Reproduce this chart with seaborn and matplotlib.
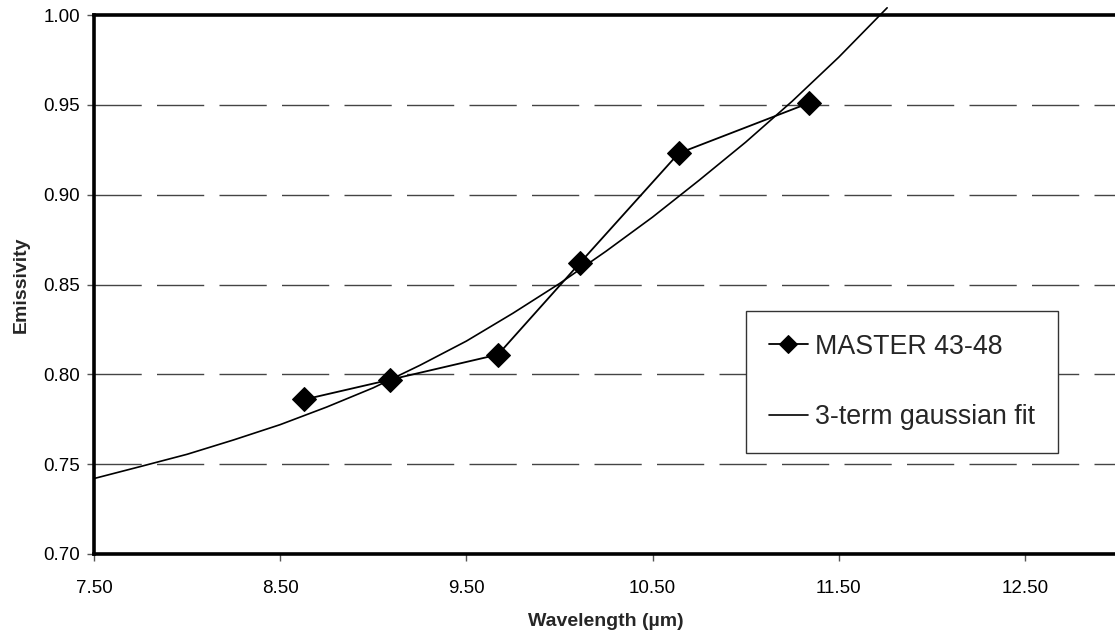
import matplotlib
matplotlib.use("Agg")
import matplotlib.pyplot as plt
import seaborn as sns
import pandas as pd

# Measured band emissivity (MASTER channels 43-48)
band_wavelength = [8.63, 9.09, 9.67, 10.11, 10.64, 11.34]
band_emissivity = [0.786, 0.797, 0.811, 0.862, 0.923, 0.951]

# 3-term gaussian fit curve
fit_wavelength = [7.50, 7.75, 8.00, 8.25, 8.50, 8.75, 9.00, 9.25, 9.50, 9.75,
                  10.00, 10.25, 10.50, 10.75, 11.00, 11.25, 11.50, 11.76]
fit_emissivity = [0.742, 0.7487, 0.7555, 0.7635, 0.7720, 0.7818, 0.7925, 0.8050,
                  0.8185, 0.8340, 0.8505, 0.8685, 0.8875, 0.9080, 0.9292, 0.9520,
                  0.9765, 1.004]

x_ticks = [7.5, 8.5, 9.5, 10.5, 11.5, 12.5]
y_ticks = [0.70, 0.75, 0.80, 0.85, 0.90, 0.95, 1.00]
grid_levels = [0.75, 0.80, 0.85, 0.90, 0.95]

band_df = pd.DataFrame({"Wavelength": band_wavelength, "Emissivity": band_emissivity})
fit_df = pd.DataFrame({"Wavelength": fit_wavelength, "Emissivity": fit_emissivity})

sns.set_theme(style="white")
plt.rcParams["font.family"] = ["Liberation Sans", "DejaVu Sans"]

W, H = 1115, 638
fig = plt.figure(figsize=(W / 100, H / 100), dpi=100)
left_px, right_px, top_px, bottom_px = 94, 1118, 15, 554
ax = fig.add_axes([left_px / W, (H - bottom_px) / H,
                   (right_px - left_px) / W, (bottom_px - top_px) / H])

# dashed horizontal gridlines
for g in grid_levels:
    ax.axhline(g, color="#444444", lw=1.0, dashes=(34, 11), zorder=1)

sns.lineplot(data=band_df, x="Wavelength", y="Emissivity", ax=ax, sort=False,
             color="black", lw=1.3, marker="D", markersize=12.5,
             markeredgecolor="black", markerfacecolor="black",
             label="MASTER 43-48", zorder=3)
sns.lineplot(data=fit_df, x="Wavelength", y="Emissivity", ax=ax, sort=False,
             color="black", lw=1.2, label="3-term gaussian fit",
             clip_on=False, zorder=4)

ax.set_xlim(7.5, 13.0)
ax.set_ylim(0.70, 1.00)
ax.set_xticks(x_ticks)
ax.set_xticklabels([f"{v:.2f}" for v in x_ticks])
ax.set_yticks(y_ticks)
ax.set_yticklabels([f"{v:.2f}" for v in y_ticks])

for s in ["left", "top", "bottom", "right"]:
    ax.spines[s].set_visible(True)
    ax.spines[s].set_color("black")
    ax.spines[s].set_linewidth(2.6)

ax.tick_params(axis="x", direction="out", length=5, width=1, color="#555555",
               pad=14, labelsize=13.5, labelcolor="black", bottom=True)
ax.tick_params(axis="y", direction="out", length=5, width=1, color="#555555",
               pad=5, labelsize=13.5, labelcolor="black", left=True)

ax.set_xlabel("Wavelength (µm)", fontsize=14, fontweight="bold", labelpad=11)
ax.set_ylabel("Emissivity", fontsize=14, fontweight="bold", labelpad=10)

ax_w = right_px - left_px
ax_h = bottom_px - top_px
leg = ax.legend(loc="upper left",
                bbox_to_anchor=((746 - left_px) / ax_w, (bottom_px - 311) / ax_h),
                borderaxespad=0, frameon=True, fancybox=False, framealpha=1,
                edgecolor="#333333", fontsize=19.3, handlelength=1.45,
                handletextpad=0.28, labelspacing=1.65, borderpad=0.85,
                numpoints=1, markerscale=0.75)
leg.get_frame().set_linewidth(1.0)
leg.set_zorder(5)

fig.savefig("out.png", dpi=100)
